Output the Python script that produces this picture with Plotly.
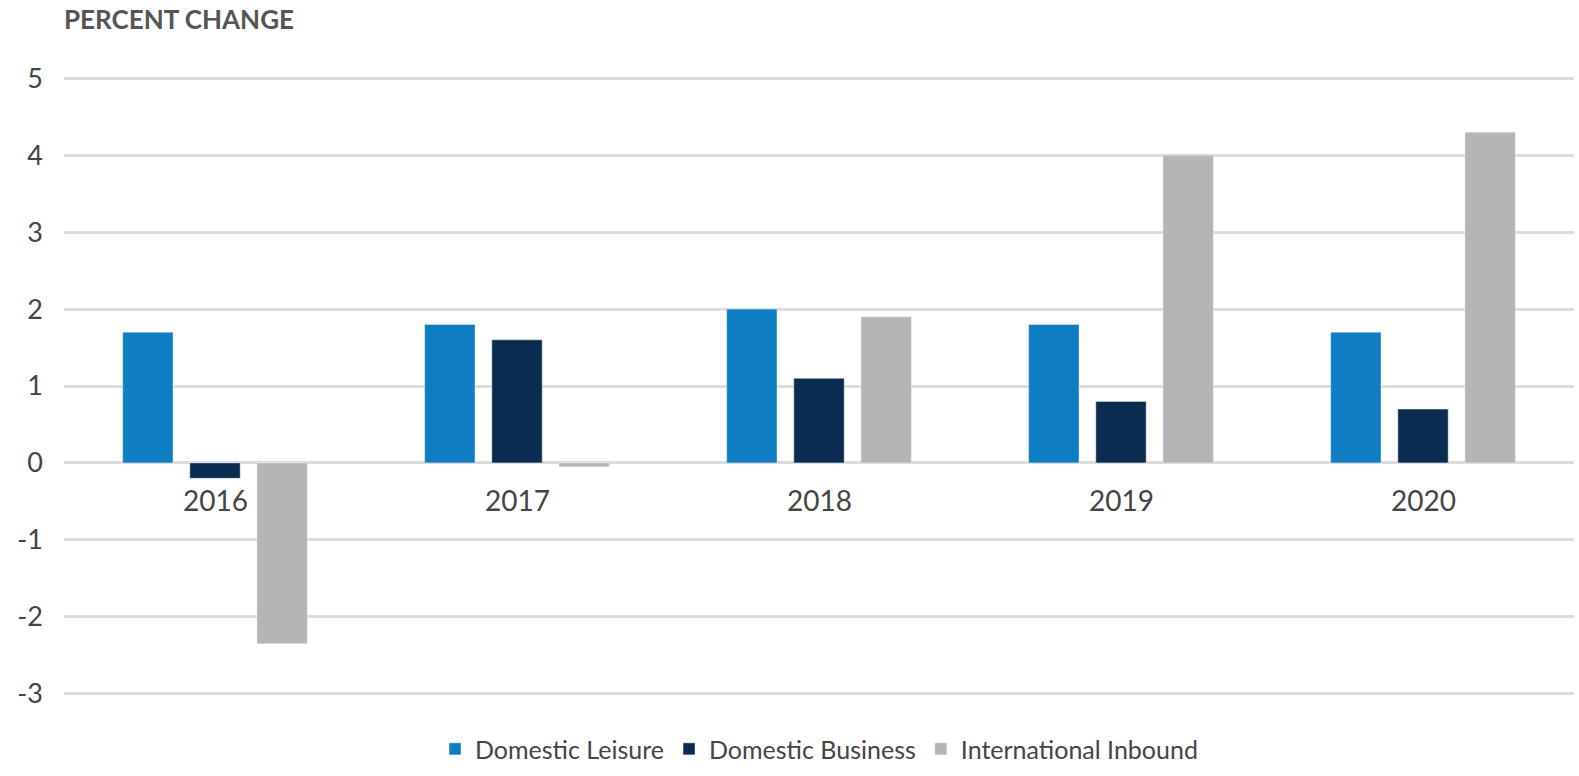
import plotly.graph_objects as go

years = ["2016", "2017", "2018", "2019", "2020"]
domestic_leisure = [1.7, 1.8, 2.0, 1.8, 1.7]
domestic_business = [-0.2, 1.6, 1.1, 0.8, 0.7]
international_inbound = [-2.35, -0.05, 1.9, 4.0, 4.3]
y_ticks = [-3, -2, -1, 0, 1, 2, 3, 4, 5]

FONT = "Lato"
TXT = "#454545"

fig = go.Figure()
fig.add_bar(x=years, y=domestic_leisure, name="Domestic Leisure", marker_color="#0E7DC2")
fig.add_bar(x=years, y=domestic_business, name="Domestic Business", marker_color="#0B2B50")
fig.add_bar(x=years, y=international_inbound, name="International Inbound", marker_color="#B4B5B7")

for i, yr in enumerate(years):
    fig.add_annotation(x=i, y=0, text=yr, showarrow=False, yshift=-37,
                       font=dict(family=FONT, size=28, color=TXT))

fig.add_annotation(x=0, xref="paper", y=1, yref="paper", xanchor="left", yanchor="bottom",
                   yshift=26, xshift=-2, text="<b>PERCENT CHANGE</b>", showarrow=False,
                   font=dict(family=FONT, size=26, color="#555"))

fig.update_layout(
    width=1579, height=776,
    margin=dict(l=64, r=5, t=63, b=67, autoexpand=False),
    paper_bgcolor="white", plot_bgcolor="white",
    barmode="group", bargap=0.333, bargroupgap=0.25,
    showlegend=True,
    legend=dict(orientation="h", x=0.5, xanchor="center", yref="container", y=0.005,
                yanchor="bottom",
                font=dict(family=FONT, size=25, color=TXT), itemwidth=30,
                traceorder="normal"),
    xaxis=dict(type="category", range=[-0.5, len(years) - 0.5], showticklabels=False,
               showgrid=False, zeroline=False, showline=False),
    yaxis=dict(range=[-3.2, 5.2], tickvals=y_ticks, ticktext=[str(v) for v in y_ticks],
               showgrid=True, gridcolor="#DCDCDC", gridwidth=3, zeroline=False,
               showline=False, ticklabelstandoff=20,
               tickfont=dict(family=FONT, size=27, color=TXT)),
    font=dict(family=FONT),
)

fig.write_html("out.html")
